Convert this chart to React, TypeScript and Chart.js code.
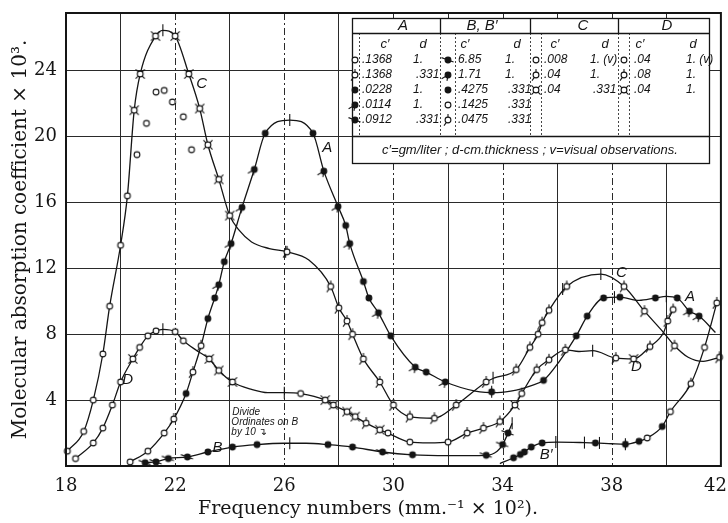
import React, { useEffect, useRef } from 'react';
import { Chart, registerables } from 'chart.js';

Chart.register(...registerables);

type P = [number, number];

// ---------- axis ticks ----------
const X_LABELS = [18, 22, 26, 30, 34, 38, 42];
const Y_LABELS = [4, 8, 12, 16, 20, 24];

// ---------- drawn curves ----------
const curveA: P[] = [
  [20.35, 0.25], [21.0, 0.9], [21.6, 2.0], [21.95, 2.85], [22.4, 4.4], [22.65, 5.7], [22.95, 7.3],
  [23.2, 8.95], [23.45, 10.2], [23.6, 11.0], [23.8, 12.4], [24.05, 13.5], [24.45, 15.7], [24.9, 18.0],
  [25.3, 20.2], [26.2, 21.0], [27.05, 20.2], [27.45, 17.9], [27.97, 15.75], [28.25, 14.6], [28.4, 13.5],
  [28.9, 11.2], [29.1, 10.2], [29.45, 9.3], [29.9, 7.9], [30.8, 6.0], [31.2, 5.7], [31.9, 5.1],
  [33.0, 4.55], [33.8, 4.45], [34.5, 4.6], [35.0, 4.85], [35.5, 5.2], [36.1, 6.4], [36.7, 7.9],
  [37.1, 9.1], [37.7, 10.2], [38.3, 10.25], [39.0, 10.05], [39.6, 10.2], [40.0, 10.3], [40.4, 10.2],
  [40.85, 9.4], [41.2, 9.1], [41.8, 8.1],
];
const curveC: P[] = [
  [18.05, 0.9], [18.65, 2.1], [19.0, 4.0], [19.35, 6.8], [19.6, 9.7], [20.0, 13.4], [20.25, 16.4],
  [20.5, 21.6], [20.72, 23.8], [21.28, 26.1], [21.55, 26.45], [22.0, 26.1], [22.5, 23.8], [22.9, 21.7],
  [23.2, 19.5], [23.6, 17.4], [24.0, 15.2], [24.35, 14.3], [24.8, 13.6], [25.45, 13.2], [26.1, 13.0],
  [26.9, 12.5], [27.7, 10.9], [28.0, 9.6], [28.3, 8.8], [28.5, 8.0], [28.9, 6.5], [29.5, 5.1],
  [30.0, 3.7], [30.6, 3.0], [31.5, 2.9], [32.3, 3.7], [33.4, 5.1], [33.7, 5.35], [34.5, 5.85],
  [35.0, 7.2], [35.3, 8.0], [35.45, 8.7], [35.7, 9.45], [36.35, 10.9], [37.6, 11.65], [38.45, 10.9],
  [39.2, 9.4], [39.9, 8.1], [40.3, 7.3], [40.8, 6.6], [41.35, 6.35], [41.95, 6.6],
];
const curveD: P[] = [
  [18.35, 0.45], [19.0, 1.4], [19.35, 2.3], [19.7, 3.7], [20.0, 5.1], [20.45, 6.5], [20.7, 7.2],
  [21.0, 7.9], [21.3, 8.2], [21.55, 8.3], [22.0, 8.15], [22.3, 7.6], [22.8, 7.0], [23.25, 6.5],
  [23.6, 5.8], [24.1, 5.1], [24.8, 4.65], [25.4, 4.45], [26.0, 4.45], [26.6, 4.4], [27.5, 4.0],
  [27.8, 3.7], [28.3, 3.3], [28.6, 3.0], [29.0, 2.6], [29.5, 2.2], [29.8, 2.0], [30.6, 1.45],
  [31.3, 1.4], [32.0, 1.45], [32.7, 2.0], [33.3, 2.3], [33.9, 2.7], [34.45, 3.7], [34.7, 4.4],
  [35.25, 5.85], [35.7, 6.45], [36.3, 7.05], [36.8, 6.95], [37.3, 7.0], [38.15, 6.55], [38.8, 6.5],
  [39.4, 7.25], [39.9, 8.1], [40.05, 8.8], [40.25, 9.5],
];
const curveB: P[] = [
  [20.9, 0.2], [21.3, 0.25], [21.75, 0.45], [22.45, 0.55], [23.2, 0.85], [24.1, 1.15], [25.0, 1.3],
  [26.0, 1.38], [26.8, 1.38], [27.6, 1.3], [28.5, 1.15], [29.6, 0.85], [30.7, 0.68], [32.0, 0.63],
  [33.4, 0.65], [33.8, 0.9], [34.0, 1.3], [34.2, 2.0], [34.35, 2.6],
];
const curveB2: P[] = [
  [33.9, 0.15], [34.4, 0.5], [34.65, 0.7], [34.8, 0.85], [35.05, 1.15], [35.45, 1.4], [36.0, 1.45],
  [37.0, 1.42], [37.4, 1.4], [38.0, 1.35], [38.5, 1.32], [39.0, 1.5], [39.3, 1.7], [39.85, 2.4],
  [40.15, 3.3], [40.9, 5.0], [41.4, 7.2], [41.85, 9.9],
];

// ---------- observed points (by measuring condition) ----------
const aOpen: P[] = [[20.35, 0.25], [21.0, 0.9], [21.6, 2.0]];
const aOpenTail: P[] = [[21.95, 2.85], [22.65, 5.7], [22.95, 7.3]];
const aFilled: P[] = [
  [22.4, 4.4], [23.2, 8.95], [23.45, 10.2], [23.8, 12.4], [25.3, 20.2], [27.05, 20.2], [28.25, 14.6],
  [28.9, 11.2], [29.1, 10.2], [29.9, 7.9], [31.2, 5.7], [33.6, 4.5], [35.5, 5.2], [36.7, 7.9],
  [37.1, 9.1], [37.7, 10.2], [38.3, 10.25], [39.6, 10.2], [40.4, 10.2],
];
const aFilledTail: P[] = [
  [23.6, 11.0], [24.05, 13.5], [24.45, 15.7], [24.9, 18.0], [27.45, 17.9], [27.97, 15.75], [28.4, 13.5],
  [29.45, 9.3], [30.8, 6.0], [31.9, 5.1], [40.85, 9.4], [41.2, 9.1],
];
const cVisual: P[] = [
  [18.05, 0.9], [18.65, 2.1], [19.0, 4.0], [19.35, 6.8], [19.6, 9.7], [20.0, 13.4], [20.25, 16.4],
  [20.6, 18.9], [20.95, 20.8], [21.3, 22.7], [21.6, 22.8], [21.9, 22.1], [22.3, 21.2], [22.6, 19.2],
];
const cCross: P[] = [
  [20.5, 21.6], [20.72, 23.8], [21.28, 26.1], [22.0, 26.1], [22.5, 23.8], [22.9, 21.7], [23.2, 19.5],
  [23.6, 17.4], [24.0, 15.2],
];
const cTail: P[] = [
  [26.1, 13.0], [27.7, 10.9], [28.0, 9.6], [28.3, 8.8], [28.5, 8.0], [28.9, 6.5], [29.5, 5.1], [30.0, 3.7],
  [30.6, 3.0], [31.5, 2.9], [32.3, 3.7], [33.4, 5.1], [34.5, 5.85], [35.0, 7.2], [35.3, 8.0], [35.45, 8.7],
  [35.7, 9.45], [36.35, 10.9], [38.45, 10.9], [39.2, 9.4], [40.3, 7.3], [41.95, 6.6],
];
const dOpen: P[] = [
  [18.35, 0.45], [19.0, 1.4], [19.35, 2.3], [19.7, 3.7], [20.0, 5.1], [20.7, 7.2], [21.0, 7.9],
  [21.3, 8.2], [22.0, 8.15], [22.3, 7.6], [26.6, 4.4], [29.8, 2.0], [30.6, 1.45], [32.0, 1.45],
];
const dCross: P[] = [
  [20.45, 6.5], [23.25, 6.5], [23.6, 5.8], [24.1, 5.1], [27.5, 4.0], [27.8, 3.7], [28.3, 3.3],
  [28.6, 3.0], [29.5, 2.2], [34.45, 3.7], [38.8, 6.5],
];
const dTail: P[] = [
  [29.0, 2.6], [32.7, 2.0], [33.3, 2.3], [33.9, 2.7], [34.7, 4.4], [35.25, 5.85], [35.7, 6.45],
  [36.3, 7.05], [38.15, 6.55], [39.4, 7.25], [40.05, 8.8], [40.25, 9.5],
];
const bFilled: P[] = [[23.2, 0.85], [24.1, 1.15], [25.0, 1.3], [27.6, 1.3], [28.5, 1.15], [30.7, 0.68]];
const bFilledTail: P[] = [
  [20.9, 0.2], [21.3, 0.25], [21.75, 0.45], [22.45, 0.55], [29.6, 0.85], [33.4, 0.65], [34.0, 1.3], [34.2, 2.0],
];
const b2Filled: P[] = [
  [34.4, 0.5], [34.65, 0.7], [34.8, 0.85], [35.05, 1.15], [35.45, 1.4], [37.4, 1.4], [38.5, 1.32],
  [39.0, 1.5], [39.85, 2.4],
];
const b2Open: P[] = [[39.3, 1.7], [40.15, 3.3], [41.4, 7.2]];
const b2OpenTail: P[] = [[40.9, 5.0], [41.85, 9.9]];
const tickMarks: P[] = [
  [21.55, 26.45], [26.2, 21.0], [26.05, 13.0], [21.55, 8.3], [26.0, 4.45], [26.2, 1.38], [33.65, 5.35],
  [33.6, 4.5], [37.6, 11.65], [36.2, 10.75], [38.1, 10.25], [40.0, 10.3], [37.3, 7.0], [35.95, 1.45],
  [37.0, 1.42], [37.55, 1.4], [38.5, 1.32], [34.35, 2.6],
];

// ---------- annotations ----------
const curveLabels = [
  { t: 'C', x: 22.97, y: 23.2 }, { t: 'A', x: 27.57, y: 19.3 }, { t: 'D', x: 20.26, y: 5.25 },
  { t: 'B', x: 23.55, y: 1.1 }, { t: 'C', x: 38.35, y: 11.75 }, { t: 'A', x: 40.87, y: 10.25 },
  { t: 'D', x: 38.9, y: 6.05 }, { t: 'B′', x: 35.6, y: 0.65 },
];
const noteLines = ['Divide', 'Ordinates on B', 'by 10 ↴'];
const noteAnchor = { x: 24.06, y: 3.25 };

// ---------- inset table ----------
const tableHeads = ['A', 'B, B′', 'C', 'D'];
const tableA = [['.1368', '1.'], ['.1368', '.331'], ['.0228', '1.'], ['.0114', '1.'], ['.0912', '.331']];
const tableB = [['6.85', '1.'], ['1.71', '1.'], ['.4275', '.331'], ['.1425', '.331'], ['.0475', '.331']];
const tableC = [['.008', '1. (v)'], ['.04', '1.'], ['.04', '.331']];
const tableD = [['.04', '1. (v)'], ['.08', '1.'], ['.04', '1.']];
const tableFoot = 'c′=gm/liter ; d-cm.thickness ; v=visual observations.';

const INK = '#151515';

function makeMarker(kind: string): HTMLCanvasElement {
  const size = 20;
  const c = document.createElement('canvas');
  c.width = size;
  c.height = size;
  const g = c.getContext('2d')!;
  const m = size / 2;
  const r = 2.9;
  g.lineWidth = 1.1;
  g.strokeStyle = INK;
  const tail = (deg: number, len = 4) => {
    const a = (deg * Math.PI) / 180;
    g.beginPath();
    g.moveTo(m + r * Math.cos(a), m + r * Math.sin(a));
    g.lineTo(m + (r + len) * Math.cos(a), m + (r + len) * Math.sin(a));
    g.stroke();
  };
  const filled = kind.startsWith('filled');
  g.beginPath();
  g.arc(m, m, r, 0, Math.PI * 2);
  g.fillStyle = filled ? INK : '#fff';
  g.fill();
  g.stroke();
  if (kind === 'openTail') { tail(125, 4); tail(270, 3); }
  if (kind === 'filledTail') { tail(150, 4.5); tail(100, 3); }
  if (kind === 'filledSlash') { tail(200, 4); tail(20, 3); }
  if (kind === 'openCross') { tail(45, 3.5); tail(135, 3.5); tail(225, 3.5); tail(315, 3.5); }
  return c;
}

const toXY = (arr: P[]) => arr.map(([x, y]) => ({ x, y }));
const TICK_FONT = '18px "DejaVu Serif", serif';

export default function App() {
  const ref = useRef<HTMLCanvasElement>(null);

  useEffect(() => {
    const canvas = ref.current;
    if (!canvas) return;
    const mk = {
      open: makeMarker('open'),
      filled: makeMarker('filled'),
      openTail: makeMarker('openTail'),
      filledTail: makeMarker('filledTail'),
      filledSlash: makeMarker('filledSlash'),
      openCross: makeMarker('openCross'),
    };

    const lineDs = (arr: P[]) => ({
      type: 'line' as const,
      data: toXY(arr),
      borderColor: INK,
      borderWidth: 1.3,
      pointRadius: 0,
      cubicInterpolationMode: 'monotone' as const,
      fill: false,
      order: 3,
      clip: 4,
    });
    const markDs = (arr: P[], style: HTMLCanvasElement) => ({
      type: 'line' as const,
      data: toXY(arr),
      showLine: false,
      pointStyle: style,
      pointRadius: 4,
      borderColor: INK,
      backgroundColor: INK,
      order: 1,
      clip: false as const,
    });

    const datasets: any[] = [
      lineDs(curveA), lineDs(curveC), lineDs(curveD), lineDs(curveB), lineDs(curveB2),
      {
        type: 'line', data: toXY(tickMarks), showLine: false, pointStyle: 'line', rotation: 90,
        pointRadius: 6, borderColor: INK, borderWidth: 1.1, order: 2, clip: false,
      },
      markDs(aOpen, mk.open), markDs(aOpenTail, mk.openTail), markDs(aFilled, mk.filled),
      markDs(aFilledTail, mk.filledTail), markDs(cVisual, mk.open), markDs(cCross, mk.openCross),
      markDs(cTail, mk.openTail), markDs(dOpen, mk.open), markDs(dCross, mk.openCross),
      markDs(dTail, mk.openTail), markDs(bFilled, mk.filled), markDs(bFilledTail, mk.filledSlash),
      markDs(b2Filled, mk.filled), markDs(b2Open, mk.open), markDs(b2OpenTail, mk.openTail),
    ];

    const dashedGrid = {
      id: 'dashedGrid',
      beforeDatasetsDraw(chart: any) {
        const { ctx, chartArea, scales } = chart;
        ctx.save();
        ctx.strokeStyle = '#2a2a2a';
        ctx.lineWidth = 1;
        ctx.setLineDash([7, 3, 2, 3]);
        X_LABELS.filter((v) => v > 18 && v < 42).forEach((v) => {
          const px = Math.round(scales.x.getPixelForValue(v)) + 0.5;
          ctx.beginPath();
          ctx.moveTo(px, chartArea.top);
          ctx.lineTo(px, chartArea.bottom);
          ctx.stroke();
        });
        ctx.restore();
      },
    };

    const overlay = {
      id: 'overlay',
      afterDatasetsDraw(chart: any) {
        const { ctx, scales } = chart;
        const xs = scales.x;
        const ys = scales.y;
        ctx.save();
        ctx.fillStyle = INK;
        // curve labels
        ctx.font = 'italic 15px "Liberation Sans", "DejaVu Sans", sans-serif';
        ctx.textAlign = 'center';
        ctx.textBaseline = 'middle';
        curveLabels.forEach((l) => ctx.fillText(l.t, xs.getPixelForValue(l.x), ys.getPixelForValue(l.y)));
        // note
        ctx.font = 'italic 10px "Liberation Sans", "DejaVu Sans", sans-serif';
        ctx.textAlign = 'left';
        const nx = xs.getPixelForValue(noteAnchor.x);
        const ny = ys.getPixelForValue(noteAnchor.y);
        noteLines.forEach((t, i) => ctx.fillText(t, nx + (i === 0 ? 1 : 0), ny + i * 10));

        // inset table
        const L = 352, T = 18, R = 709, B = 163;
        const headY = 33, footLineY = 136;
        ctx.fillStyle = '#fff';
        ctx.fillRect(L, T, R - L, B - T);
        ctx.strokeStyle = INK;
        ctx.lineWidth = 1.3;
        ctx.strokeRect(L + 0.5, T + 0.5, R - L, B - T);
        ctx.beginPath();
        ctx.moveTo(L, headY + 0.5); ctx.lineTo(R, headY + 0.5);
        ctx.moveTo(L, footLineY + 0.5); ctx.lineTo(R, footLineY + 0.5);
        [440, 530, 618].forEach((x) => { ctx.moveTo(x + 0.5, T); ctx.lineTo(x + 0.5, headY); });
        ctx.stroke();
        ctx.lineWidth = 0.8;
        ctx.setLineDash([2, 2]);
        ctx.beginPath();
        [359, 440, 455, 530, 541, 618, 629].forEach((x) => { ctx.moveTo(x + 0.5, headY); ctx.lineTo(x + 0.5, footLineY); });
        ctx.stroke();
        ctx.setLineDash([]);

        ctx.fillStyle = INK;
        ctx.textBaseline = 'middle';
        ctx.textAlign = 'center';
        ctx.font = 'italic 15px "Liberation Sans", "DejaVu Sans", sans-serif';
        [403, 482, 583, 667].forEach((x, i) => ctx.fillText(tableHeads[i], x, 26));
        ctx.font = 'italic 13px "Liberation Sans", "DejaVu Sans", sans-serif';
        [[385, 423], [465, 517], [555, 605], [640, 693]].forEach(([cx, dx]) => {
          ctx.fillText('c′', cx, 44);
          ctx.fillText('d', dx, 44);
        });
        const rowsY = [60, 75, 90, 105, 120];
        const groups = [
          { rows: tableA, mx: 355, cx: 362, dx: 413, marks: [mk.open, mk.openTail, mk.filled, mk.filledTail, mk.filledSlash] },
          { rows: tableB, mx: 448, cx: 458, dx: 505, marks: [mk.filledSlash, mk.filledTail, mk.filled, mk.open, mk.openTail] },
          { rows: tableC, mx: 536, cx: 544, dx: 590, marks: [mk.open, mk.openTail, mk.openCross] },
          { rows: tableD, mx: 624, cx: 634, dx: 686, marks: [mk.open, mk.openTail, mk.openCross] },
        ];
        ctx.textAlign = 'left';
        ctx.font = 'italic 12px "Liberation Sans", "DejaVu Sans", sans-serif';
        groups.forEach((g) => {
          g.rows.forEach((row, i) => {
            const y = rowsY[i];
            ctx.drawImage(g.marks[i], g.mx - 10, y - 10);
            ctx.fillText(row[0], g.cx, y);
            ctx.fillText(row[1], g.dx + (row[1].startsWith('.') ? 3 : 0), y);
          });
        });
        ctx.font = 'italic 13px "Liberation Sans", "DejaVu Sans", sans-serif';
        ctx.textAlign = 'center';
        ctx.fillText(tableFoot, 530, 150);
        ctx.restore();
      },
      afterDraw(chart: any) {
        const { ctx, chartArea, scales } = chart;
        ctx.save();
        ctx.strokeStyle = INK;
        ctx.lineWidth = 2;
        ctx.strokeRect(chartArea.left, chartArea.top, chartArea.right - chartArea.left, chartArea.bottom - chartArea.top);
        ctx.fillStyle = INK;
        // last x tick label, kept inside the canvas edge
        const last = X_LABELS[X_LABELS.length - 1];
        ctx.font = TICK_FONT;
        ctx.textAlign = 'right';
        ctx.textBaseline = 'middle';
        ctx.fillText(String(last), Math.min(chart.width - 1, scales.x.getPixelForValue(last) + 11), chartArea.bottom + 10 + 10.8);
        ctx.font = '19px "DejaVu Serif", serif';
        ctx.textAlign = 'center';
        ctx.textBaseline = 'alphabetic';
        ctx.fillText('Frequency numbers (mm.⁻¹ × 10²).', 368, 514);
        ctx.restore();
      },
    };

    const chart = new Chart(canvas, {
      type: 'line',
      data: { datasets },
      options: {
        responsive: false,
        devicePixelRatio: 1,
        animation: false,
        events: [],
        layout: { padding: { left: 0, top: 13, right: 5, bottom: 0 } },
        plugins: { legend: { display: false }, tooltip: { enabled: false } },
        scales: {
          x: {
            type: 'linear',
            min: 18,
            max: 42,
            ticks: {
              stepSize: 2,
              autoSkip: false,
              maxRotation: 0,
              padding: 10,
              color: INK,
              font: { family: '"DejaVu Serif", serif', size: 18 },
              callback: (v: any) => {
                const n = Number(v);
                return X_LABELS.includes(n) && n !== X_LABELS[X_LABELS.length - 1] ? String(v) : '';
              },
            },
            grid: {
              drawTicks: false,
              lineWidth: 1,
              color: (c: any) => {
                const v = c.tick ? c.tick.value : 0;
                return X_LABELS.includes(v) ? 'rgba(0,0,0,0)' : '#2a2a2a';
              },
            },
            border: { display: false },
            afterFit: (s: any) => {
              s.height = 57;
              s.paddingLeft = 0;
              s.paddingRight = 0;
            },
          },
          y: {
            type: 'linear',
            min: 0,
            max: 27.5,
            ticks: {
              stepSize: 4,
              padding: 9,
              color: INK,
              font: { family: '"DejaVu Serif", serif', size: 18 },
              callback: (v: any) => (Y_LABELS.includes(Number(v)) ? String(v) : ''),
            },
            grid: {
              drawTicks: false,
              lineWidth: 1,
              color: (c: any) => {
                const v = c.tick ? c.tick.value : 0;
                return Y_LABELS.includes(v) ? '#2a2a2a' : 'rgba(0,0,0,0)';
              },
            },
            border: { display: false },
            title: {
              display: true,
              text: 'Molecular absorption coefficient × 10³.',
              color: INK,
              font: { family: '"DejaVu Serif", serif', size: 20 },
              padding: { top: 9, bottom: 0 },
            },
            afterFit: (s: any) => {
              s.width = 66;
              s.paddingTop = 0;
              s.paddingBottom = 0;
            },
          },
        },
      } as any,
      plugins: [dashedGrid, overlay],
    });
    return () => chart.destroy();
  }, []);

  return (
    <div style={{ position: 'fixed', left: 0, top: 0, width: 728, height: 523, background: '#fff' }}>
      <canvas ref={ref} width={728} height={523} style={{ display: 'block', width: 728, height: 523 }} />
    </div>
  );
}
